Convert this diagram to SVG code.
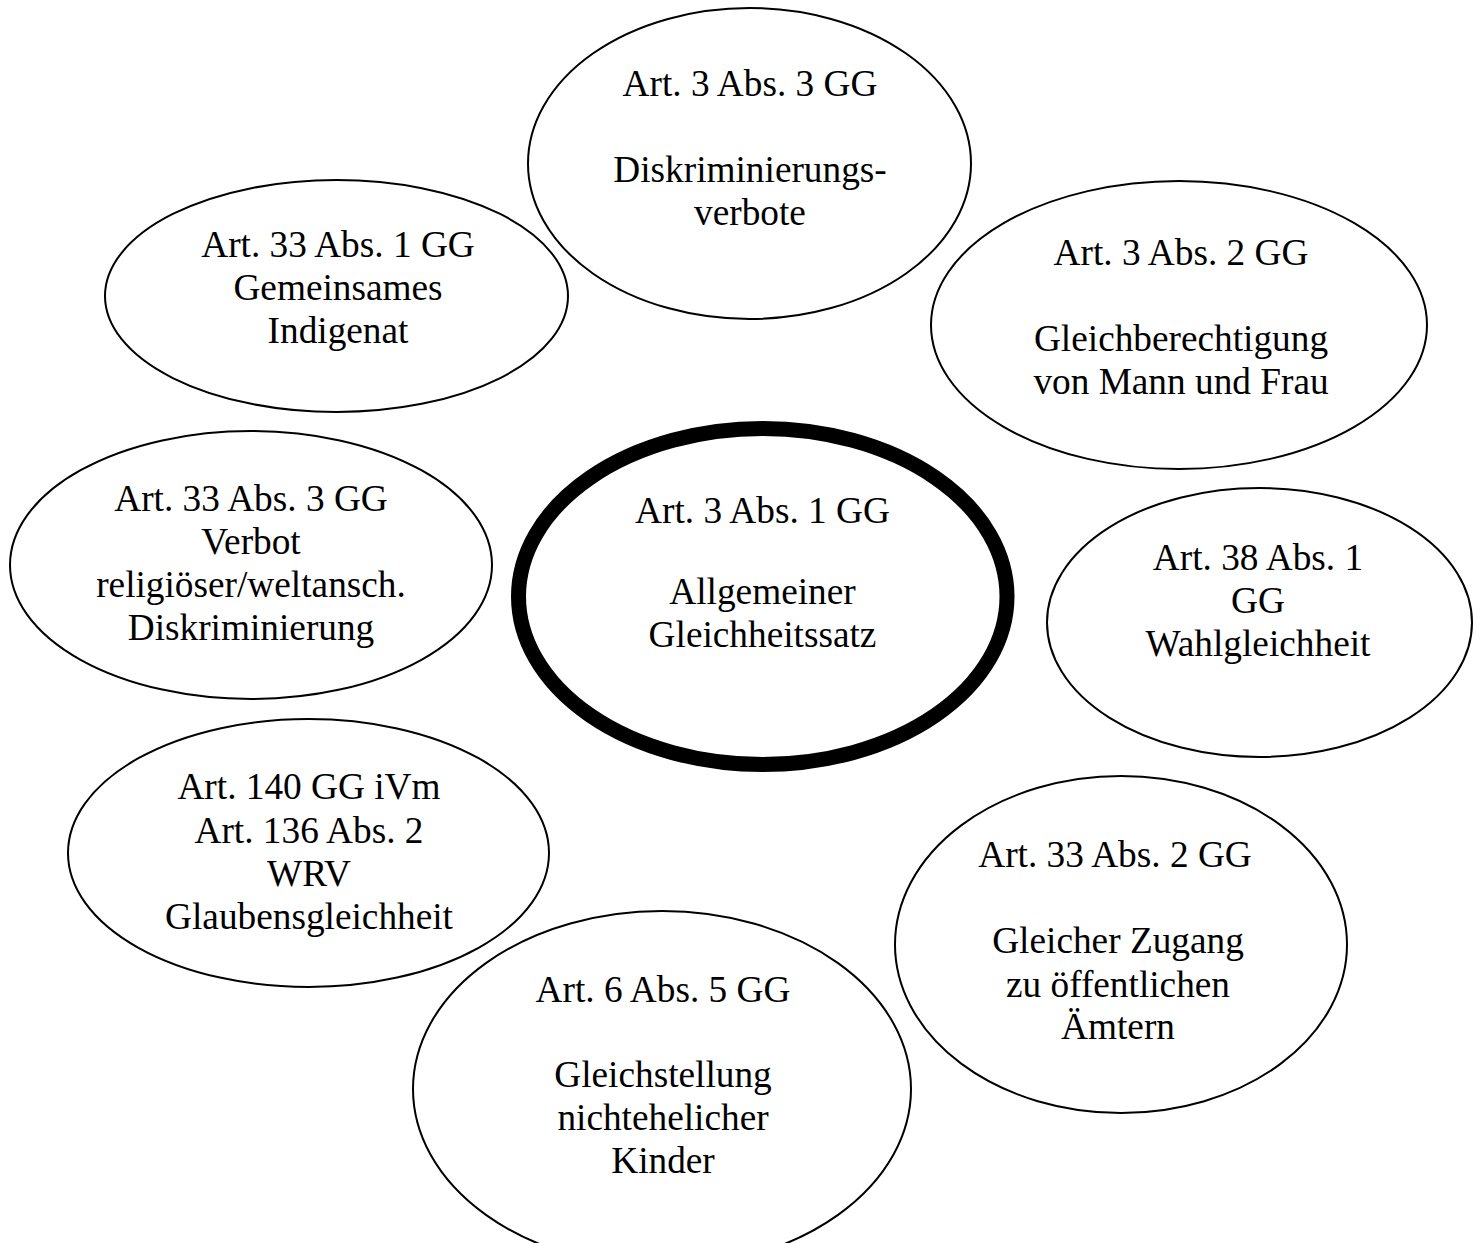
<svg xmlns="http://www.w3.org/2000/svg" width="1477" height="1243" viewBox="0 0 1477 1243">
<style>
.n{fill:#fff;stroke:#000;stroke-width:2}
.main{fill:#fff;stroke:#000;stroke-width:15}
text{font-family:"Liberation Serif","Times New Roman",serif;font-size:37.3px;fill:#000;text-anchor:middle}
</style>
<rect width="1477" height="1243" fill="#fff"/>
<g id="connectors"></g>
<g id="n-art3-3">
<ellipse class="n" cx="749.5" cy="163.5" rx="221.5" ry="155.5"/>
<text x="750" y="96">Art. 3 Abs. 3 GG</text>
<text x="750" y="182">Diskriminierungs-</text>
<text x="750" y="225">verbote</text>
</g>
<g id="n-art33-1">
<ellipse class="n" cx="336.5" cy="296" rx="231.5" ry="116"/>
<text x="338" y="257">Art. 33 Abs. 1 GG</text>
<text x="338" y="300">Gemeinsames</text>
<text x="338" y="343">Indigenat</text>
</g>
<g id="n-art3-2">
<ellipse class="n" cx="1179" cy="325" rx="248" ry="144"/>
<text x="1181" y="265">Art. 3 Abs. 2 GG</text>
<text x="1181" y="351">Gleichberechtigung</text>
<text x="1181" y="394">von Mann und Frau</text>
</g>
<g id="n-art33-3">
<ellipse class="n" cx="251" cy="565" rx="241" ry="134"/>
<text x="251" y="511">Art. 33 Abs. 3 GG</text>
<text x="251" y="554">Verbot</text>
<text x="251" y="597">religiöser/weltansch.</text>
<text x="251" y="640">Diskriminierung</text>
</g>
<g id="n-art3-1">
<ellipse class="main" cx="762.75" cy="596.5" rx="244.25" ry="168"/>
<text x="762.5" y="523">Art. 3 Abs. 1 GG</text>
<text x="762.5" y="604">Allgemeiner</text>
<text x="762.5" y="647">Gleichheitssatz</text>
</g>
<g id="n-art38-1">
<ellipse class="n" cx="1259.5" cy="622.5" rx="212.5" ry="134.5"/>
<text x="1258" y="570">Art. 38 Abs. 1</text>
<text x="1258" y="613">GG</text>
<text x="1258" y="656">Wahlgleichheit</text>
</g>
<g id="n-art140">
<ellipse class="n" cx="308.5" cy="853" rx="240.5" ry="134"/>
<text x="309" y="799">Art. 140 GG iVm</text>
<text x="309" y="843">Art. 136 Abs. 2</text>
<text x="309" y="886">WRV</text>
<text x="309" y="929">Glaubensgleichheit</text>
</g>
<g id="n-art33-2">
<ellipse class="n" cx="1121" cy="944.5" rx="226" ry="168.5"/>
<text x="1115" y="867">Art. 33 Abs. 2 GG</text>
<text x="1118" y="953">Gleicher Zugang</text>
<text x="1118" y="997">zu öffentlichen</text>
<text x="1118" y="1039">Ämtern</text>
</g>
<g id="n-art6-5">
<ellipse class="n" cx="662" cy="1089" rx="249" ry="178"/>
<text x="663" y="1002">Art. 6 Abs. 5 GG</text>
<text x="663" y="1087">Gleichstellung</text>
<text x="663" y="1130">nichtehelicher</text>
<text x="663" y="1173">Kinder</text>
</g>
</svg>
